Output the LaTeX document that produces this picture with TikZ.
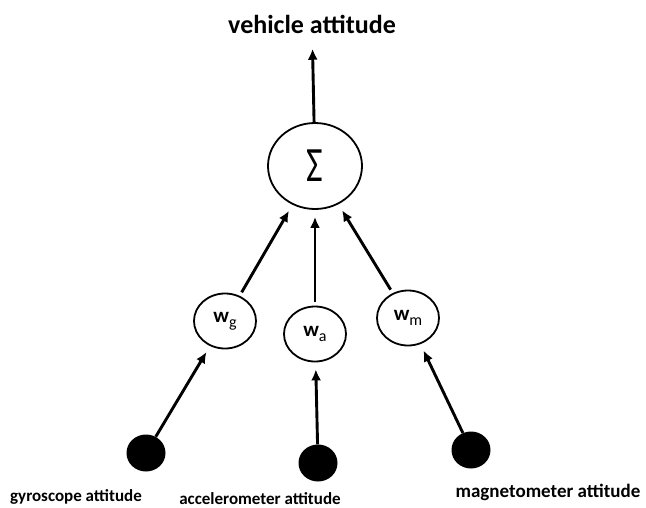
\documentclass[tikz,border=0pt]{standalone}
\usepackage{fontspec}
\setmainfont{Carlito}
\usetikzlibrary{arrows.meta,shapes.geometric}
\newcommand{\wlabel}[1]{\fontsize{21}{23}\selectfont\textbf{w}\raisebox{-5pt}{\fontsize{16}{18}\selectfont #1}}
\begin{document}
\begin{tikzpicture}[x=1pt, y=-1pt,
    sumnode/.style={draw, ellipse, line width=1.8pt, minimum width=94pt, minimum height=86pt, inner sep=0pt},
    weightnode/.style={draw, ellipse, line width=1.8pt, minimum width=62pt, minimum height=55pt, inner sep=0pt},
    sensordot/.style={fill=black, ellipse, minimum width=39pt, minimum height=37pt, inner sep=0pt},
    labeltext/.style={anchor=base, font=\bfseries\fontsize{17}{19}\selectfont},
    wire/.style={line width=2.9pt, -{Latex[length=11pt,width=10pt]}, shorten >=7pt}]%
   % Frame: pixel coordinates of the 646x507 picture, y downwards
   \useasboundingbox (0,0) rectangle (646,507);

   % Output and summing node
   \node[anchor=base, font=\bfseries\fontsize{26}{28}\selectfont] (out) at (312,33) {vehicle attitude};
   \node[sumnode] (sum) at (315,166) {\scalebox{0.95}[1.3]{\fontsize{38}{40}\selectfont Σ}};

   % Weights
   \node[weightnode] (wg) at (225,321) {\wlabel{g}};
   \node[weightnode] (wa) at (315,334) {\wlabel{a}};
   \node[weightnode] (wm) at (408,318) {\wlabel{m}};

   % Sensors
   \node[sensordot] (gyro) at (146,453) {};
   \node[sensordot] (acc) at (318,463) {};
   \node[sensordot] (mag) at (471,450) {};
   \node[labeltext] (gyrolbl) at (76,501) {gyroscope attitude};
   \node[labeltext] (acclbl) at (260,504) {accelerometer attitude};
   \node[labeltext, font=\bfseries\fontsize{19}{21}\selectfont] (maglbl) at (548,497) {magnetometer attitude};

   % Connections
   \draw[wire, shorten >=12pt] (sum) -- (out);
   \draw[wire, shorten <=4pt] (wg) -- (sum);
   \draw[wire, shorten <=4pt] (wa) -- (sum);
   \draw[wire, shorten <=4pt] (wm) -- (sum);
   \draw[wire] (gyro) -- (wg);
   \draw[wire] (acc) -- (wa);
   \draw[wire] (mag) -- (wm);
 \end{tikzpicture}
\end{document}
